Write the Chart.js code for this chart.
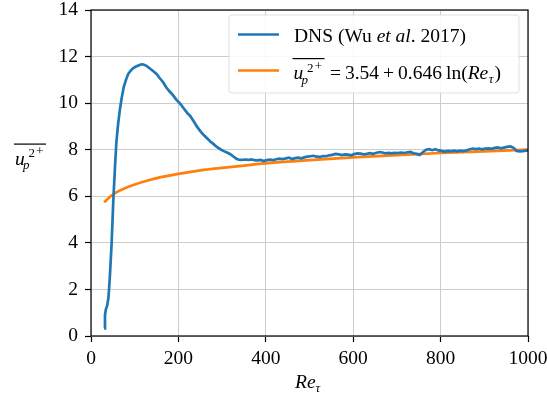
<!DOCTYPE html>
<html>
<head>
<meta charset="utf-8">
<script src="https://cdn.jsdelivr.net/npm/chart.js@4"></script>
<style>
  html, body { margin: 0; padding: 0; background: #fff; }
  canvas { display: block; }
</style>
</head>
<body>
<canvas id="chart" width="547" height="397"></canvas>
<script>
// DNS (Wu et al. 2017)
var dnsRe = [30, 32, 34, 37, 40, 43, 47, 51, 55, 58, 62, 66, 70, 75, 80, 85, 90, 96, 103, 110,
  115, 120, 127, 134, 142, 150, 157, 165, 172, 180, 188, 195, 204, 212, 220, 227, 235, 243, 250, 258,
  265, 273, 280, 288, 296, 304, 311, 318, 325, 332, 338, 345, 352, 360, 367, 374, 381, 388, 395, 402,
  410, 417, 424, 431, 438, 446, 453, 460, 467, 474, 481, 488, 495, 502, 509, 516, 524, 531, 538, 545,
  552, 560, 567, 574, 581, 588, 595, 602, 610, 617, 624, 631, 638, 645, 652, 660, 667, 674, 681, 688,
  695, 702, 710, 717, 724, 731, 738, 745, 752, 760, 767, 774, 781, 788, 795, 802, 810, 817, 824, 831,
  838, 845, 852, 860, 867, 874, 881, 888, 895, 902, 910, 917, 924, 931, 938, 945, 952, 960, 967, 974,
  981, 988, 995, 1000];
var dnsU = [0.33, 0.9, 1.15, 1.3, 1.65, 2.5, 3.9, 5.8, 7.3, 8.3, 9.1, 9.7, 10.2, 10.7, 11.0, 11.25, 11.38, 11.5, 11.57, 11.63,
  11.67, 11.66, 11.6, 11.5, 11.38, 11.25, 11.08, 10.9, 10.68, 10.5, 10.33, 10.15, 9.98, 9.78, 9.58, 9.45, 9.22, 8.98, 8.8, 8.63,
  8.5, 8.35, 8.25, 8.12, 8.02, 7.94, 7.88, 7.82, 7.72, 7.62, 7.57, 7.56, 7.58, 7.56, 7.58, 7.55, 7.54, 7.56, 7.51, 7.55,
  7.57, 7.55, 7.59, 7.62, 7.6, 7.63, 7.66, 7.6, 7.64, 7.66, 7.63, 7.67, 7.7, 7.72, 7.74, 7.7, 7.69, 7.73, 7.72, 7.76,
  7.78, 7.82, 7.8, 7.77, 7.8, 7.79, 7.76, 7.81, 7.84, 7.83, 7.8, 7.82, 7.85, 7.82, 7.86, 7.9, 7.88, 7.84, 7.86, 7.84,
  7.87, 7.86, 7.88, 7.86, 7.89, 7.91, 7.85, 7.82, 7.77, 7.9, 8.0, 8.02, 7.98, 8.02, 7.97, 7.95, 7.92, 7.95, 7.93, 7.96,
  7.93, 7.96, 7.94, 7.98, 8.02, 8.05, 8.03, 8.05, 8.02, 8.05, 8.06, 8.04, 8.08, 8.1, 8.06, 8.09, 8.12, 8.14, 8.08, 7.95,
  7.93, 7.94, 7.96, 7.97];

// log-law fit curve, sampled off the figure
var fitRe = [30, 40, 50, 60, 80, 100, 130, 160, 200, 250, 300, 350, 400, 500, 600, 700, 800, 900, 1000];
var fitU = [5.74, 5.92, 6.07, 6.19, 6.37, 6.51, 6.68, 6.82, 6.96, 7.11, 7.22, 7.32, 7.41, 7.55, 7.67, 7.77, 7.86, 7.93, 8.0];

var xTicks = [0, 200, 400, 600, 800, 1000];
var yTicks = [0, 2, 4, 6, 8, 10, 12, 14];

var SERIF = '"Liberation Serif", "DejaVu Serif", serif';
var FS = 19.5;
var BLUE = '#1f77b4', ORANGE = '#ff7f0e';

function pts(xs, ys) {
  return xs.map(function (x, i) { return { x: x, y: ys[i] }; });
}

// draw a run of text pieces with different fonts / offsets
function runs(ctx, x, y, parts) {
  parts.forEach(function (p) {
    ctx.font = p.f;
    ctx.fillText(p.t, x + (p.dx || 0), y + (p.dy || 0));
    x += ctx.measureText(p.t).width + (p.dx || 0) + (p.sp || 0);
  });
  return x;
}

// overline u_p^{2+}, baseline y
function upSymbol(ctx, x, y) {
  ctx.font = 'italic ' + FS + 'px ' + SERIF;
  ctx.fillText('u', x, y);
  ctx.font = 'italic 13px ' + SERIF;
  ctx.fillText('p', x + 8, y + 4.5);
  ctx.font = '13px ' + SERIF;
  ctx.fillText('2', x + 13.5, y - 7.5);
  ctx.font = '13.5px ' + SERIF;
  ctx.fillText('+', x + 21, y - 9.5);
  ctx.fillRect(x - 1, y - 21, 32, 1.2);
  return x + 31;
}

var decor = {
  id: 'decor',
  afterDraw: function (chart) {
    var ctx = chart.ctx, a = chart.chartArea;
    ctx.save();
    // frame
    ctx.strokeStyle = '#000';
    ctx.lineWidth = 1.2;
    ctx.strokeRect(a.left, a.top, a.right - a.left, a.bottom - a.top);

    ctx.fillStyle = '#000';
    ctx.textBaseline = 'alphabetic';
    ctx.textAlign = 'left';

    // x axis title
    runs(ctx, 295, 388, [
      { t: 'Re', f: 'italic ' + FS + 'px ' + SERIF },
      { t: '\u03c4', f: 'italic 13px ' + SERIF, dy: 3.5 }
    ]);

    // y axis title
    upSymbol(ctx, 15, 164.5);

    // legend
    var lx = 229, ly = 15, lw = 290, lh = 78;
    ctx.beginPath();
    ctx.roundRect(lx, ly, lw, lh, 3);
    ctx.fillStyle = 'rgba(255,255,255,0.85)';
    ctx.fill();
    ctx.strokeStyle = 'rgba(215,215,215,0.8)';
    ctx.lineWidth = 1;
    ctx.stroke();

    ctx.lineWidth = 2.7;
    ctx.strokeStyle = BLUE;
    ctx.beginPath(); ctx.moveTo(238, 34.5); ctx.lineTo(279, 34.5); ctx.stroke();
    ctx.strokeStyle = ORANGE;
    ctx.beginPath(); ctx.moveTo(238, 70.5); ctx.lineTo(279, 70.5); ctx.stroke();

    ctx.fillStyle = '#000';
    var f = FS + 'px ' + SERIF, fi = 'italic ' + FS + 'px ' + SERIF;
    runs(ctx, 294, 42, [
      { t: 'DNS (Wu ', f: f },
      { t: 'et al', f: fi },
      { t: '. 2017)', f: f }
    ]);
    upSymbol(ctx, 293.5, 79);
    runs(ctx, 330, 79, [
      { t: '=', f: f, sp: 4 },
      { t: '3.54', f: f, sp: 4 },
      { t: '+', f: f, sp: 4 },
      { t: '0.646', f: f, sp: 4 },
      { t: 'ln(', f: f },
      { t: 'Re', f: fi, sp: 0.5 },
      { t: '\u03c4', f: 'italic 13px ' + SERIF, dy: 3.5, sp: 1 },
      { t: ')', f: f }
    ]);
    ctx.restore();
  }
};

new Chart(document.getElementById('chart'), {
  type: 'scatter',
  data: {
    datasets: [{
      label: 'DNS (Wu et al. 2017)',
      data: pts(dnsRe, dnsU),
      showLine: true,
      borderColor: BLUE,
      borderWidth: 2.7,
      pointRadius: 0,
      tension: 0
    }, {
      label: 'fit',
      data: pts(fitRe, fitU),
      showLine: true,
      borderColor: ORANGE,
      borderWidth: 2.7,
      pointRadius: 0,
      cubicInterpolationMode: 'monotone'
    }]
  },
  options: {
    responsive: false,
    animation: false,
    devicePixelRatio: 1,
    layout: { padding: { left: 0, right: 19, top: 10, bottom: 0 } },
    plugins: { legend: { display: false }, tooltip: { enabled: false } },
    scales: {
      x: {
        type: 'linear', min: 0, max: 1000,
        afterFit: function (s) { s.height = 61; s.paddingLeft = 0; s.paddingRight = 0; },
        afterBuildTicks: function (s) { s.ticks = xTicks.map(function (v) { return { value: v }; }); },
        ticks: { color: '#000', font: { family: SERIF, size: FS }, padding: 5, maxRotation: 0,
          callback: function (v) { return String(v); } },
        grid: { color: '#cccccc', lineWidth: 1, tickColor: '#000', tickLength: 6, tickWidth: 1.2 },
        border: { display: false }
      },
      y: {
        min: 0, max: 14,
        afterFit: function (s) { s.width = 91; s.paddingTop = 0; s.paddingBottom = 0; },
        afterBuildTicks: function (s) { s.ticks = yTicks.map(function (v) { return { value: v }; }); },
        ticks: { color: '#000', font: { family: SERIF, size: FS }, padding: 7,
          callback: function (v) { return String(v); } },
        grid: { color: '#cccccc', lineWidth: 1, tickColor: '#000', tickLength: 6, tickWidth: 1.2 },
        border: { display: false }
      }
    }
  },
  plugins: [decor]
});
</script>
</body>
</html>
